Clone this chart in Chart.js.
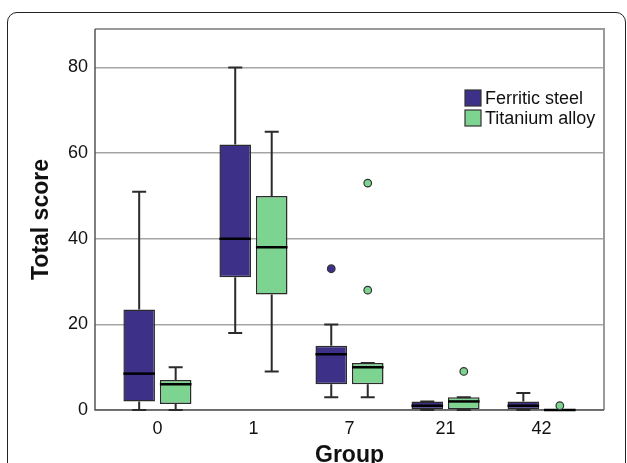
<!DOCTYPE html>
<html>
<head>
<meta charset="utf-8">
<script src="https://cdn.jsdelivr.net/npm/chart.js@4"></script>
<style>
  body { margin: 0; background: #fff; }
  #wrap { position: relative; width: 627px; height: 463px; overflow: hidden; }
  #frame { position: absolute; left: 7px; top: 12px; width: 617px; height: 520px; border: 1.5px solid #222; border-radius: 10px; }
  canvas { position: absolute; left: 0; top: 0; }
</style>
</head>
<body>
<div id="wrap">
  <div id="frame"></div>
  <canvas id="boxChart" width="627" height="463"></canvas>
</div>
<script>
// groups (days) and box statistics
const groups = ['0', '1', '7', '21', '42'];
const yTicks = [0, 20, 40, 60, 80];

const ferriticMin = [0, 18, 3, 0, 0];
const ferriticQ1 = [2, 31, 6, 0, 0];
const ferriticMedian = [8.5, 40, 13, 1, 1];
const ferriticQ3 = [23.5, 62, 15, 2, 2];
const ferriticMax = [51, 80, 20, 2, 4];
const ferriticOutliers = [[], [], [33], [], []];

const titaniumMin = [0, 9, 3, 0, 0];
const titaniumQ1 = [1.4, 27, 6, 0, 0];
const titaniumMedian = [6, 38, 10, 2, 0];
const titaniumQ3 = [7, 50, 11, 3, 0];
const titaniumMax = [10, 65, 11, 3, 0];
const titaniumOutliers = [[], [], [28, 53], [9], [1]];

const FERRITIC = '#3d3089';
const TITANIUM = '#7dd490';
const EDGE = '#2b2b2b';

const series = [
  { label: 'Ferritic steel', color: FERRITIC, min: ferriticMin, q1: ferriticQ1, med: ferriticMedian, q3: ferriticQ3, max: ferriticMax, out: ferriticOutliers },
  { label: 'Titanium alloy', color: TITANIUM, min: titaniumMin, q1: titaniumQ1, med: titaniumMedian, q3: titaniumQ3, max: titaniumMax, out: titaniumOutliers }
];

// frame of the plot area (drawn under the boxes)
const plotFrame = {
  id: 'plotFrame',
  beforeDatasetsDraw(chart) {
    const { ctx, chartArea: a } = chart;
    ctx.save();
    ctx.strokeStyle = '#9a9a9a';
    ctx.lineWidth = 2;
    ctx.beginPath();
    ctx.moveTo(a.left, a.top);
    ctx.lineTo(a.right, a.top);
    ctx.lineTo(a.right, a.bottom);
    ctx.stroke();
    ctx.strokeStyle = '#555';
    ctx.lineWidth = 1.5;
    ctx.beginPath();
    ctx.moveTo(a.left, a.top);
    ctx.lineTo(a.left, a.bottom);
    ctx.lineTo(a.right, a.bottom);
    ctx.stroke();
    ctx.restore();
  }
};

// whiskers, medians and outliers on top of the floating bars
const boxExtras = {
  id: 'boxExtras',
  afterDatasetsDraw(chart) {
    const ctx = chart.ctx;
    const y = chart.scales.y;
    ctx.save();
    series.forEach((s, di) => {
      const meta = chart.getDatasetMeta(di);
      meta.data.forEach((bar, i) => {
        const cx = bar.x;
        const w = bar.width;
        const cap = 14;
        const pMin = y.getPixelForValue(s.min[i]);
        const pQ1 = y.getPixelForValue(s.q1[i]);
        const pQ3 = y.getPixelForValue(s.q3[i]);
        const pMax = y.getPixelForValue(s.max[i]);

        ctx.strokeStyle = EDGE;
        ctx.lineWidth = 2;
        ctx.beginPath();
        ctx.moveTo(cx, pQ3); ctx.lineTo(cx, pMax);
        ctx.moveTo(cx - cap / 2, pMax); ctx.lineTo(cx + cap / 2, pMax);
        ctx.moveTo(cx, pQ1); ctx.lineTo(cx, pMin);
        ctx.moveTo(cx - cap / 2, pMin); ctx.lineTo(cx + cap / 2, pMin);
        ctx.stroke();

        ctx.strokeStyle = '#000';
        ctx.lineWidth = 2.5;
        const pMed = y.getPixelForValue(s.med[i]);
        ctx.beginPath();
        ctx.moveTo(cx - w / 2, pMed); ctx.lineTo(cx + w / 2, pMed);
        ctx.stroke();

        s.out[i].forEach(v => {
          ctx.beginPath();
          ctx.arc(cx, y.getPixelForValue(v), 3.8, 0, Math.PI * 2);
          ctx.fillStyle = s.color;
          ctx.fill();
          ctx.lineWidth = 1.2;
          ctx.strokeStyle = '#333';
          ctx.stroke();
        });
      });
    });
    ctx.restore();
  },
  afterDraw(chart) {
    // legend inside the plot, upper right
    const ctx = chart.ctx;
    ctx.save();
    ctx.font = '18px "Liberation Sans", Arial, sans-serif';
    ctx.textBaseline = 'middle';
    series.forEach((s, k) => {
      const top = 90 + k * 20;
      ctx.fillStyle = s.color;
      ctx.fillRect(465, top, 16, 16);
      ctx.strokeStyle = '#333';
      ctx.lineWidth = 1.2;
      ctx.strokeRect(465, top, 16, 16);
      ctx.fillStyle = '#111';
      ctx.fillText(s.label, 485, top + 9);
    });
    ctx.restore();
  }
};

const ctx = document.getElementById('boxChart').getContext('2d');
new Chart(ctx, {
  type: 'bar',
  data: {
    datasets: series.map(s => ({
      label: s.label,
      data: groups.map((g, i) => ({ x: i, y: [s.q1[i], s.q3[i]] })),
      backgroundColor: s.color,
      borderColor: EDGE,
      borderWidth: 1.5,
      borderSkipped: false,
      categoryPercentage: 0.76,
      barPercentage: 0.865
    }))
  },
  options: {
    responsive: false,
    animation: false,
    layout: { padding: { left: 0, top: 29, right: 23, bottom: 0 } },
    plugins: {
      legend: { display: false },
      tooltip: { enabled: false }
    },
    scales: {
      x: {
        type: 'linear',
        offset: false,
        min: -0.65,
        max: 4.65,
        afterBuildTicks: s => { s.ticks = groups.map((g, i) => ({ value: i })); },
        afterFit: s => { s.height = 53; },
        grid: { display: false, drawTicks: false, offset: false },
        border: { display: false },
        ticks: {
          padding: 8,
          color: '#111',
          font: { family: '"Liberation Sans", Arial, sans-serif', size: 18 },
          callback: v => groups[v]
        },
        title: {
          display: true,
          text: 'Group',
          color: '#111',
          padding: 0,
          font: { family: '"Liberation Sans", Arial, sans-serif', size: 23, weight: 'bold', lineHeight: 0.6 }
        }
      },
      y: {
        min: 0,
        max: 89,
        afterBuildTicks: s => { s.ticks = yTicks.map(v => ({ value: v })); },
        afterFit: s => { s.width = 95; },
        grid: { color: '#a5a5a5', lineWidth: 1.5, drawTicks: false },
        border: { display: false },
        ticks: {
          padding: 7,
          color: '#111',
          font: { family: '"Liberation Sans", Arial, sans-serif', size: 18 }
        },
        title: {
          display: true,
          text: 'Total score',
          color: '#111',
          padding: { top: 28, bottom: 0 },
          font: { family: '"Liberation Sans", Arial, sans-serif', size: 23, weight: 'bold' }
        }
      }
    }
  },
  plugins: [plotFrame, boxExtras]
});
</script>
</body>
</html>
